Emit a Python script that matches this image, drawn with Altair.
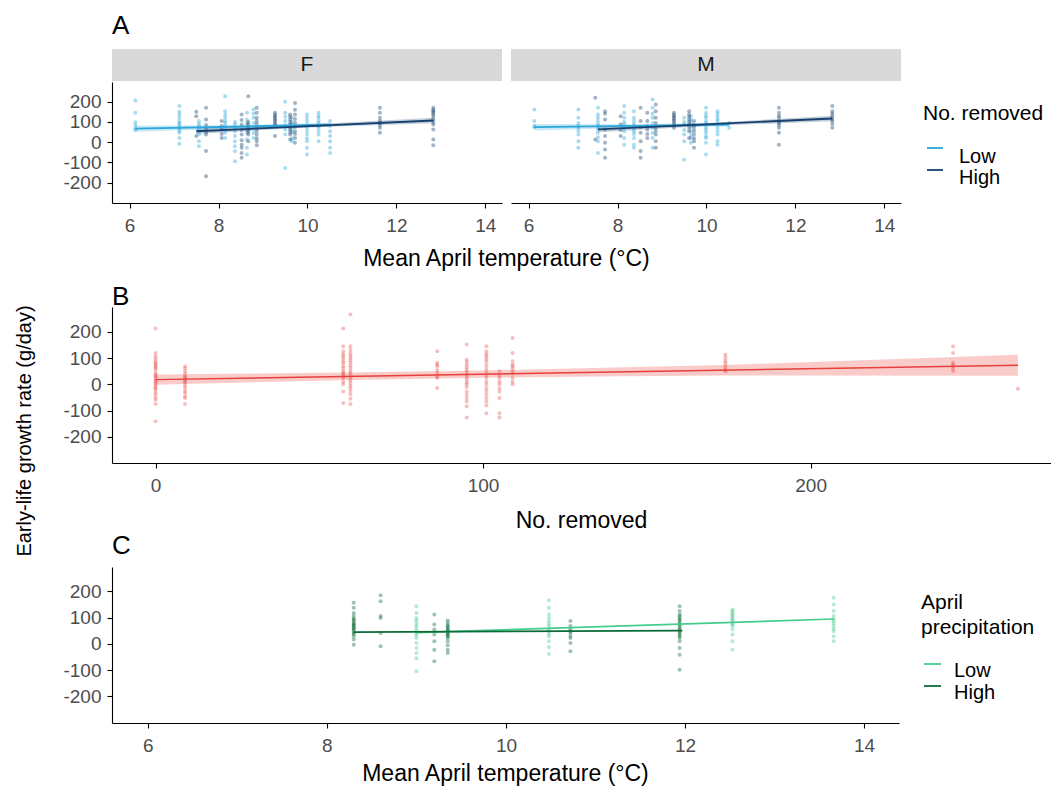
import altair as alt
import pandas as pd

FONT = "Liberation Sans"

# ---------------- Panel A : F ----------------
A_F_LOW_X = [6.13, 7.12, 7.56, 8.15, 8.37, 8.64, 8.79, 9.50, 9.65, 9.99, 10.25, 10.51]
A_F_LOW_Y = [
    [206, 145, 99, 84, 67, 60],
    [178, 150, 137, 120, 104, 95, 87, 75, 67, 55, 46, 21, -8],
    [104, 90, 79, 63, 50, 38, 5, -20],
    [227, 153, 135, 120, 105, 95, 80, 71, 46, 21],
    [100, 87, 70, 54, 30, 5, -20, -45, -94],
    [145, 112, 95, 79, 60, 46, 13, -28, -61],
    [161, 140, 120, 95, 71, 45, 21],
    [199, 145, 125, 104, 85, 63, 38, -127],
    [120, 100, 87, 60, 46, 20, 5],
    [137, 120, 104, 85, 71, 55, 38, 20, 5, -28, -61],
    [145, 130, 120, 105, 95, 80, 71, 55, 38, 5],
    [104, 80, 54, 30, 5, -28, -53],
]
A_F_HIGH_X = [7.50, 7.72, 8.07, 8.52, 8.67, 8.86, 9.27, 9.61, 9.72, 11.63, 12.83]
A_F_HIGH_Y = [
    [150, 128, 30],
    [170, 112, 85, 63, 50, 38, -44, -168],
    [104, 80, 63, 40, 21],
    [137, 110, 87, 60, 38, 10, -12, -28, -53, -77],
    [227, 100, 87, 75, 63, 50, 38, 5],
    [170, 145, 120, 104, 90, 71, 55, 38, 20, 5, -15],
    [145, 136, 128, 120, 112, 104, 95, 87, 79, 30],
    [137, 125, 112, 100, 87, 75, 63, 50, 38, 13],
    [194, 160, 137, 115, 95, 75, 54, 40, 21, -3],
    [170, 145, 120, 105, 95, 85, 71, 46],
    [170, 160, 153, 145, 137, 125, 112, 100, 87, 63, 13, -15],
]
A_F_LINE_LOW_X, A_F_LINE_LOW_Y = [6.13, 10.51], [67, 86]
A_F_LINE_HIGH_X, A_F_LINE_HIGH_Y = [7.50, 12.83], [54, 107]
A_F_BAND_LOW_X, A_F_BAND_LOW_LO, A_F_BAND_LOW_HI = [6.13, 8.5, 10.51], [52, 68, 76], [82, 84, 96]
A_F_BAND_HIGH_X, A_F_BAND_HIGH_LO, A_F_BAND_HIGH_HI = [7.50, 10.0, 12.83], [40, 73, 93], [68, 87, 121]

# ---------------- Panel A : M ----------------
A_M_LOW_X = [6.13, 7.12, 7.56, 8.15, 8.37, 8.79, 9.50, 9.65, 9.99, 10.25, 10.51]
A_M_LOW_Y = [
    [161, 104, 80, 74],
    [161, 120, 95, 80, 71, 55, 38, 5, -28],
    [170, 137, 120, 104, 90, 79, 65, 46, 25, 5, -53],
    [178, 145, 120, 100, 87, 70, 54, 21, -12],
    [153, 120, 104, 90, 79, 65, 54, 40, 21, -12, -28],
    [211, 170, 140, 120, 95, 71, 45, 21, -28],
    [120, 100, 87, 60, 38, 5, -86],
    [128, 110, 95, 75, 54, 35, 21, -3],
    [170, 145, 130, 120, 105, 95, 85, 71, 60, 46, 30, 21, -3, -61],
    [153, 140, 128, 115, 104, 90, 71, 55, 38, 5, -12],
    [95, 71],
]
A_M_HIGH_X = [7.50, 7.72, 8.07, 8.52, 8.67, 8.86, 9.27, 9.61, 9.72, 11.63, 12.83]
A_M_HIGH_Y = [
    [219, 13],
    [153, 140, 112, 63, 30, -3, -36, -77],
    [128, 87, 60, 30],
    [170, 104, 75, 46, 5, -44, -77],
    [145, 104, 80, 63, 40, 21],
    [186, 153, 120, 95, 71, 55, 38, 5, -28],
    [145, 136, 128, 120, 112, 104, 95, 85, 71],
    [153, 137, 125, 112, 100, 87, 70, 54, 21],
    [104, 85, 71, 55, 38, 20, 5, -28],
    [170, 145, 130, 120, 105, 95, 85, 71, 46, -12],
    [178, 153, 140, 128, 115, 104, 90, 71],
]
A_M_LINE_LOW_X, A_M_LINE_LOW_Y = [6.13, 10.51], [74, 87]
A_M_LINE_HIGH_X, A_M_LINE_HIGH_Y = [7.56, 12.83], [63, 117]
A_M_BAND_LOW_X, A_M_BAND_LOW_LO, A_M_BAND_LOW_HI = [6.13, 8.5, 10.51], [58, 72, 77], [90, 88, 97]
A_M_BAND_HIGH_X, A_M_BAND_HIGH_LO, A_M_BAND_HIGH_HI = [7.56, 10.0, 12.83], [49, 80, 103], [77, 94, 131]

# ---------------- Panel B ----------------
B_X = [0, 9, 57.3, 59.5, 86, 95, 101, 105, 109, 174, 243.5, 263.3]
B_Y = [
    [213, 120, 107, 98, 88, 80, 75, 68, 62, 55, 43, 37, 31, 25, 18, 12, 5, 0, -8, -14, -20, -30, -39, -50, -59, -75, -141],
    [69, 60, 50, 40, 31, 25, 18, 10, 5, -5, -14, -25, -33, -45, -52, -75],
    [213, 145, 126, 115, 107, 98, 88, 80, 69, 60, 50, 43, 37, 30, 24, 10, 0, -27, -71],
    [266, 145, 132, 120, 110, 101, 92, 82, 72, 62, 52, 43, 35, 24, 15, 5, -5, -14, -25, -39, -55, -75],
    [126, 82, 75, 69, 55, 43, 30, 24, -14],
    [152, 94, 85, 75, 65, 56, 47, 37, 27, 18, 8, 0, -10, -27, -40, -52, -65, -84, -126],
    [145, 126, 115, 107, 98, 88, 75, 62, 50, 37, 25, 11, 0, -14, -25, -39, -52, -65, -80, -110],
    [50, 35, 24, 10, 0, -15, -27, -52, -110, -126],
    [177, 120, 88, 75, 69, 60, 50, 40, 24, 10, 0],
    [113, 101, 90, 82, 72, 62, 55, 50],
    [145, 120, 82, 75, 69, 60, 50],
    [-17],
]
B_LINE_X, B_LINE_Y = [0, 263.3], [18, 73]
B_BAND_X = [0, 60, 100, 143, 174, 263.3]
B_BAND_LO = [-2, 17, 25, 31, 34, 33]
B_BAND_HI = [38, 45, 53, 65, 74, 113]

# ---------------- Panel C ----------------
C_LOW_X = [9.0, 10.48, 12.53, 13.66]
C_LOW_Y = [
    [144, 118, 99, 90, 80, 70, 61, 50, 42, 33, 23, 4, -15, -34, -54, -104],
    [166, 138, 112, 100, 87, 78, 68, 58, 48, 38, 29, 10, -13, -38],
    [131, 125, 118, 112, 106, 100, 93, 87, 80, 74, 68, 55, 36, 10, -22],
    [176, 150, 125, 106, 95, 87, 78, 68, 58, 48, 29, 10],
]
C_HIGH_X = [8.30, 8.60, 9.20, 9.35, 10.72, 11.94]
C_HIGH_Y = [
    [157, 138, 118, 106, 97, 92, 87, 80, 76, 72, 68, 63, 59, 54, 48, 42, 38, 29, 17, -3],
    [185, 163, 106, 99, 42, -9],
    [112, 74, 55, 36, 10, -22, -66],
    [89, 80, 71, 66, 61, 56, 51, 46, 42, 37, 33, 28, 23, 10, -5, -22, -34],
    [87, 68, 55, 48, 42, 30, 23, 4, -28],
    [144, 125, 112, 105, 99, 93, 87, 80, 74, 68, 61, 55, 48, 42, 36, 29, 23, 10, -15, -41, -98],
]
C_LINE_LOW_X, C_LINE_LOW_Y = [9.0, 13.66], [43, 95]
C_LINE_HIGH_X, C_LINE_HIGH_Y = [8.30, 11.97], [45, 51]

GROUPS = ["Low", "High"]
A_COLORS = ["#2aa8da", "#17406f"]
B_COLOR = "#e5403b"
B_BAND_COLOR = "#f28e8a"
C_COLORS = ["#45cc8f", "#0b6b38"]

# ---------------- helpers ----------------
def cluster_df(xs, ys, group):
    rows = []
    for x, col in zip(xs, ys):
        for v in col:
            rows.append({"x": x, "y": v, "g": group})
    return pd.DataFrame(rows)


def line_df(xs, ys, group):
    return pd.DataFrame({"x": xs, "y": ys, "g": group})


def band_df(xs, lo, hi, group):
    return pd.DataFrame({"x": xs, "lo": lo, "hi": hi, "g": group})


def one(text):
    return pd.DataFrame({"t": [text]})


W_PANEL, GAP = 390, 9
W_A, H_A = 2 * W_PANEL + GAP, 121
W_B, H_B = 939, 156
W_C, H_C = 787, 156

A_XDOM = [5.605, 14.375]
A_YDOM = [-300, 297]
B_XDOM = [-13.3, 273.4]
B_YDOM = [-300, 295]
C_XDOM = [5.6, 14.39]
C_YDOM = [-301, 293]

Y_TICKS = [-200, -100, 0, 100, 200]
Y_LABEL_EXPR = "'' + datum.value"
TICK_FONT = 19
TITLE_FONT = 23
PT_SIZE = 16


def text_layer(text, x, y, size, align="left", baseline="alphabetic", angle=0, color="black"):
    return alt.Chart(one(text)).mark_text(
        font=FONT, fontSize=size, align=align, baseline=baseline, angle=angle, color=color
    ).encode(x=alt.value(x), y=alt.value(y), text="t:N")


def manual_legend(scale, titles, title_x, title_ys, sym_x0, sym_x1, label_x, sym_ys, label_ys):
    layers = [text_layer(t, title_x, ty, 21) for t, ty in zip(titles, title_ys)]
    leg = pd.DataFrame({"g": GROUPS})
    for g, sy, ly in zip(GROUPS, sym_ys, label_ys):
        base = alt.Chart(leg).transform_filter(alt.datum.g == g)
        layers.append(base.mark_rule(strokeWidth=1.8).encode(
            x=alt.value(sym_x0), x2=alt.value(sym_x1), y=alt.value(sy),
            color=alt.Color("g:N", scale=scale, legend=None)))
        layers.append(base.mark_text(font=FONT, fontSize=20, align="left", color="black").encode(
            x=alt.value(label_x), y=alt.value(ly), text="g:N"))
    return layers


A_CSCALE = alt.Scale(domain=GROUPS, range=A_COLORS)
A_YSCALE = alt.Scale(domain=A_YDOM, nice=False, zero=False)
A_YAXIS = alt.Axis(values=Y_TICKS, title=None, labelPadding=6, labelExpr=Y_LABEL_EXPR)


def facet_layer(low_x, low_y, high_x, high_y, llx, lly, lhx, lhy,
                blx, bllo, blhi, bhx, bhlo, bhhi, xrange):
    pts = pd.concat([cluster_df(low_x, low_y, "Low"), cluster_df(high_x, high_y, "High")])
    lns = pd.concat([line_df(llx, lly, "Low"), line_df(lhx, lhy, "High")])
    bnd = pd.concat([band_df(blx, bllo, blhi, "Low"), band_df(bhx, bhlo, bhhi, "High")])
    xs = alt.Scale(domain=A_XDOM, range=xrange, nice=False, zero=False)
    xax = alt.Axis(values=[6, 8, 10, 12, 14], title=None, labelPadding=8, orient="bottom")
    col = alt.Color("g:N", scale=A_CSCALE, legend=None)
    band = alt.Chart(bnd).mark_area(opacity=0.25).encode(
        x=alt.X("x:Q", scale=xs, axis=xax),
        y=alt.Y("lo:Q", scale=A_YSCALE, axis=A_YAXIS),
        y2="hi:Q", color=col, detail="g:N")
    points = alt.Chart(pts).mark_circle(size=PT_SIZE, opacity=0.4).encode(
        x=alt.X("x:Q", scale=xs, axis=xax),
        y=alt.Y("y:Q", scale=A_YSCALE, axis=A_YAXIS), color=col)
    lines = alt.Chart(lns).mark_line(strokeWidth=1.8).encode(
        x=alt.X("x:Q", scale=xs, axis=xax),
        y=alt.Y("y:Q", scale=A_YSCALE, axis=A_YAXIS), color=col, detail="g:N")
    return alt.layer(band, points, lines)


def strip(label, x0):
    rect = alt.Chart(one(label)).mark_rect(color="#d9d9d9").encode(
        x=alt.value(x0), x2=alt.value(x0 + W_PANEL), y=alt.value(-33), y2=alt.value(-1))
    txt = text_layer(label, x0 + W_PANEL / 2, -17, 21, align="center", baseline="middle", color="#1a1a1a")
    return [rect, txt]


layer_f = facet_layer(A_F_LOW_X, A_F_LOW_Y, A_F_HIGH_X, A_F_HIGH_Y,
                      A_F_LINE_LOW_X, A_F_LINE_LOW_Y, A_F_LINE_HIGH_X, A_F_LINE_HIGH_Y,
                      A_F_BAND_LOW_X, A_F_BAND_LOW_LO, A_F_BAND_LOW_HI,
                      A_F_BAND_HIGH_X, A_F_BAND_HIGH_LO, A_F_BAND_HIGH_HI,
                      [0, W_PANEL])
layer_m = facet_layer(A_M_LOW_X, A_M_LOW_Y, A_M_HIGH_X, A_M_HIGH_Y,
                      A_M_LINE_LOW_X, A_M_LINE_LOW_Y, A_M_LINE_HIGH_X, A_M_LINE_HIGH_Y,
                      A_M_BAND_LOW_X, A_M_BAND_LOW_LO, A_M_BAND_LOW_HI,
                      A_M_BAND_HIGH_X, A_M_BAND_HIGH_LO, A_M_BAND_HIGH_HI,
                      [W_PANEL + GAP, W_A])

row_a = alt.layer(
    *strip("F", 0), *strip("M", W_PANEL + GAP),
    layer_f, layer_m,
    text_layer("A", 0, -48, 26),
    text_layer("Mean April temperature (°C)", W_A / 2, 184, TITLE_FONT, align="center"),
    *manual_legend(A_CSCALE, ["No. removed"], 811, [38], 815, 831, 847, [66, 88], [75, 96]),
).resolve_scale(x="independent").resolve_axis(x="independent").properties(width=W_A, height=H_A)

# ---------------- B ----------------
b_pts = cluster_df(B_X, B_Y, "all")
b_line = line_df(B_LINE_X, B_LINE_Y, "all")
b_band = band_df(B_BAND_X, B_BAND_LO, B_BAND_HI, "all")
bxs = alt.Scale(domain=B_XDOM, nice=False, zero=False)
bys = alt.Scale(domain=B_YDOM, nice=False, zero=False)
bxax = alt.Axis(values=[0, 100, 200], title=None, labelPadding=8)
byax = alt.Axis(values=Y_TICKS, title=None, labelPadding=6, labelExpr=Y_LABEL_EXPR)

panel_b = alt.layer(
    alt.Chart(b_band).mark_area(color=B_BAND_COLOR, opacity=0.45).encode(
        x=alt.X("x:Q", scale=bxs, axis=bxax), y=alt.Y("lo:Q", scale=bys, axis=byax), y2="hi:Q"),
    alt.Chart(b_pts).mark_circle(color=B_COLOR, size=PT_SIZE, opacity=0.33).encode(
        x=alt.X("x:Q", scale=bxs, axis=bxax), y=alt.Y("y:Q", scale=bys, axis=byax)),
    alt.Chart(b_line).mark_line(color=B_COLOR, strokeWidth=1.5).encode(
        x=alt.X("x:Q", scale=bxs, axis=bxax), y=alt.Y("y:Q", scale=bys, axis=byax)),
    text_layer("B", 0, -2, 26),
    text_layer("No. removed", W_B / 2, 221, TITLE_FONT, align="center"),
    text_layer("Early-life growth rate (g/day)", -87, 124, 20, align="center", baseline="middle", angle=270),
).properties(width=W_B, height=H_B)

# ---------------- C ----------------
c_pts = pd.concat([cluster_df(C_LOW_X, C_LOW_Y, "Low"), cluster_df(C_HIGH_X, C_HIGH_Y, "High")])
c_lns = pd.concat([line_df(C_LINE_LOW_X, C_LINE_LOW_Y, "Low"), line_df(C_LINE_HIGH_X, C_LINE_HIGH_Y, "High")])
cxs = alt.Scale(domain=C_XDOM, nice=False, zero=False)
cys = alt.Scale(domain=C_YDOM, nice=False, zero=False)
cxax = alt.Axis(values=[6, 8, 10, 12, 14], title=None, labelPadding=8)
cyax = alt.Axis(values=Y_TICKS, title=None, labelPadding=6, labelExpr=Y_LABEL_EXPR)
C_CSCALE = alt.Scale(domain=GROUPS, range=C_COLORS)

panel_c = alt.layer(
    alt.Chart(c_pts).mark_circle(size=PT_SIZE, opacity=0.4).encode(
        x=alt.X("x:Q", scale=cxs, axis=cxax), y=alt.Y("y:Q", scale=cys, axis=cyax),
        color=alt.Color("g:N", scale=C_CSCALE, legend=None)),
    alt.Chart(c_lns).mark_line(strokeWidth=1.7).encode(
        x=alt.X("x:Q", scale=cxs, axis=cxax), y=alt.Y("y:Q", scale=cys, axis=cyax),
        color=alt.Color("g:N", scale=C_CSCALE, legend=None), detail="g:N"),
    text_layer("C", 0, -13, 26),
    text_layer("Mean April temperature (°C)", W_C / 2, 214, TITLE_FONT, align="center"),
    *manual_legend(C_CSCALE, ["April", "precipitation"], 809, [42, 67], 812, 829, 842, [97, 119], [104, 126]),
).properties(width=W_C, height=H_C)

chart = alt.vconcat(row_a, panel_b, panel_c, spacing=104, bounds="flush").resolve_scale(
    color="independent"
).properties(
    padding={"left": 7, "top": 5, "right": 0, "bottom": 0}
).configure_view(stroke=None).configure_axis(
    domainColor="black", tickColor="black", labelColor="#4d4d4d", labelFont=FONT,
    labelFontSize=TICK_FONT, tickSize=5, grid=False, domainWidth=1.1, tickWidth=1.1,
)

chart.save("out.html", embed_options={"renderer": "svg", "actions": False})
